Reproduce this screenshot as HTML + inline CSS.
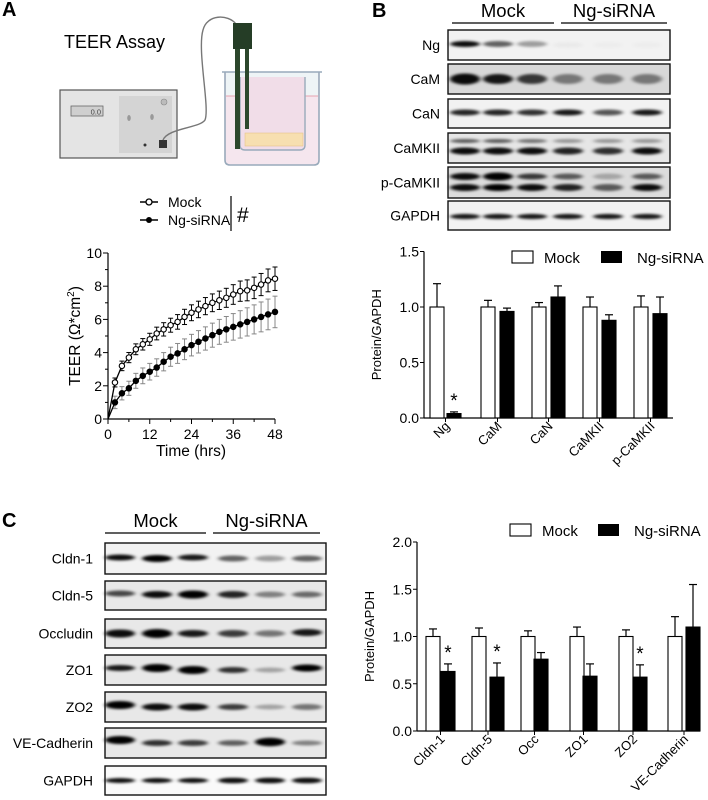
<!DOCTYPE html>
<html><head><meta charset="utf-8"><style>
html,body{margin:0;padding:0;background:#fff;}
svg{display:block;font-family:"Liberation Sans",Arial,sans-serif;}
</style></head><body>
<svg id="s" width="708" height="800" viewBox="0 0 708 800" xmlns="http://www.w3.org/2000/svg">
<defs>
<filter id="bl" x="-30%" y="-100%" width="160%" height="300%"><feGaussianBlur stdDeviation="2.2 1.3"/></filter>
</defs>
<text x="2" y="16" font-size="20" font-weight="bold">A</text>
<text x="372" y="17" font-size="20" font-weight="bold">B</text>
<text x="2" y="527" font-size="20" font-weight="bold">C</text>

<text x="64" y="48" font-size="18">TEER Assay</text>
<rect x="60" y="90" width="117" height="68" fill="#e4e4e4" stroke="#555" stroke-width="1.2"/>
<rect x="71" y="106" width="32" height="10" fill="#cfcfcf" stroke="#666" stroke-width="0.8"/>
<text x="101" y="114.5" font-size="7.5" text-anchor="end" fill="#444">0.0</text>
<rect x="119" y="96" width="53" height="57" fill="#d4d4d4"/>
<circle cx="164" cy="102" r="3" fill="#bbb" stroke="#888" stroke-width="0.6"/>
<ellipse cx="129" cy="118" rx="1.8" ry="3" fill="#999"/>
<ellipse cx="152" cy="117" rx="1.8" ry="3" fill="#999"/>
<circle cx="145" cy="145" r="1.5" fill="#333"/>
<rect x="159" y="140" width="8" height="8" fill="#333"/>
<path d="M163 140 C168 128 200 128 205 120 C210 108 197 50 203 30 C207 14 228 14 236 24" fill="none" stroke="#777" stroke-width="1.4"/>
<path d="M225 72 L225 160 Q225 165 230 165 L314 165 Q319 165 319 160 L319 72" fill="#f5e6ee" stroke="#9ab" stroke-width="1.6"/>
<rect x="226" y="72" width="92" height="24" fill="#eef4f6"/>
<line x1="226" y1="96" x2="318" y2="96" stroke="#e08a9a" stroke-width="0.8"/>
<path d="M222 72 L322 72" stroke="#9ab" stroke-width="1.6"/>
<path d="M240 77 L240 145 Q240 150 245 150 L300 150 Q305 150 305 145 L305 77" fill="#f1dde8" stroke="#9ab" stroke-width="1.4"/>
<rect x="245" y="133" width="58" height="13" fill="#f7dfb0" stroke="#e4c48a" stroke-width="0.6"/>
<rect x="233" y="23" width="19" height="26" fill="#253d26"/>
<rect x="235" y="49" width="5" height="100" fill="#2c472c"/>
<rect x="245" y="49" width="4" height="80" fill="#2c472c"/>

<line x1="140" y1="202" x2="158" y2="202" stroke="#000" stroke-width="1.5"/>
<circle cx="149" cy="202" r="3" fill="#fff" stroke="#000" stroke-width="1.3"/>
<text x="168" y="207" font-size="14">Mock</text>
<line x1="140" y1="220" x2="158" y2="220" stroke="#000" stroke-width="1.5"/>
<circle cx="149" cy="220" r="3" fill="#000"/>
<text x="168" y="225" font-size="14">Ng-siRNA</text>
<line x1="231" y1="196" x2="231" y2="231" stroke="#000" stroke-width="1.2"/>
<text x="237" y="222" font-size="21">#</text>

<g id="teer"></g>
<g id="blotB"></g>
<g id="blotC"></g>
<g id="barB"></g>
<g id="barC"></g>
</svg>
<script>
var NS="http://www.w3.org/2000/svg";
function el(p,t,a,txt){var e=document.createElementNS(NS,t);for(var k in a)e.setAttribute(k,a[k]);if(txt!==undefined)e.textContent=txt;p.appendChild(e);return e;}
(function(){
var g=document.getElementById('teer');
var X=function(t){return 108+t*(167/48);},Y=function(v){return 419-v*16.6;};
el(g,'line',{x1:108,y1:253,x2:108,y2:419,stroke:'#000','stroke-width':1.2});
el(g,'line',{x1:108,y1:419,x2:275,y2:419,stroke:'#000','stroke-width':1.2});
for(var v=0;v<=10;v++){var y=Y(v);el(g,'line',{x1:v%2?105:103,y1:y,x2:108,y2:y,stroke:'#000','stroke-width':1});
 if(v%2==0)el(g,'text',{x:102,y:y+5,'font-size':14,'text-anchor':'end'},''+v);}
for(var t=0;t<=48;t+=6){var x=X(t);el(g,'line',{x1:x,y1:419,x2:x,y2:t%12?422:424,stroke:'#000','stroke-width':1});
 if(t%12==0)el(g,'text',{x:x,y:439,'font-size':14,'text-anchor':'middle'},''+t);}
el(g,'text',{x:191,y:456,'font-size':15.5,'text-anchor':'middle'},'Time (hrs)');
var yl=el(g,'text',{x:0,y:0,'font-size':15.5,'text-anchor':'middle',transform:'translate(80,336) rotate(-90)'});
yl.innerHTML='TEER (Ω*cm<tspan dy="-6" font-size="10">2</tspan><tspan dy="6">)</tspan>';
var m=[0,2.2,3.2,3.7,4.2,4.5,4.8,5.15,5.4,5.65,5.85,6.15,6.4,6.6,6.8,7.0,7.15,7.3,7.5,7.7,7.75,7.9,8.1,8.35,8.45];
var s=[0,1.0,1.55,1.85,2.3,2.6,2.85,3.1,3.45,3.75,3.95,4.2,4.45,4.65,4.85,5.05,5.25,5.4,5.55,5.7,5.85,6.0,6.15,6.3,6.45];
function series(d,errc,fill,ef){var pts=d.map(function(v,i){return X(i*2)+','+Y(v);}).join(' ');
 for(var i=1;i<d.length;i++){var x=X(i*2),e=ef(i);el(g,'line',{x1:x,y1:Y(d[i]-e),x2:x,y2:Y(d[i]+e),stroke:errc,'stroke-width':1});
 el(g,'line',{x1:x-2.5,y1:Y(d[i]-e),x2:x+2.5,y2:Y(d[i]-e),stroke:errc,'stroke-width':1});
 el(g,'line',{x1:x-2.5,y1:Y(d[i]+e),x2:x+2.5,y2:Y(d[i]+e),stroke:errc,'stroke-width':1});}
 el(g,'polyline',{points:pts,fill:'none',stroke:'#000','stroke-width':1.3});
 for(var i=1;i<d.length;i++)el(g,'circle',{cx:X(i*2),cy:Y(d[i]),r:2.7,fill:fill,stroke:'#000','stroke-width':1.1});}
series(s,'#888','#000',function(i){return 0.35+i*0.025;});
series(m,'#000','#fff',function(i){return 0.25+i*0.019;});
})();
function blot(gid,x0,x1,rows,lanes,labx,hdr){
var g=document.getElementById(gid);
hdr.forEach(function(h){el(g,'text',{x:(h[0]+h[1])/2,y:h[3]-6,'font-size':18.5,'text-anchor':'middle'},h[2]);
 el(g,'line',{x1:h[0],y1:h[3],x2:h[1],y2:h[3],stroke:'#000','stroke-width':1.3});});
rows.forEach(function(r){var y0=r[1],y1=r[2],cy=(y0+y1)/2;
 el(g,'rect',{x:x0,y:y0,width:x1-x0,height:y1-y0,fill:r[4]||'#f2f2f2'});
 r[3].forEach(function(b,i){
  (Array.isArray(b[0])?b:[b]).forEach(function(bb){
  el(g,'ellipse',{cx:lanes[i],cy:cy+(bb[1]||0),rx:15,ry:bb[2]||3.2,fill:'#000','fill-opacity':bb[0],filter:'url(#bl)'});});});
 el(g,'rect',{x:x0,y:y0,width:x1-x0,height:y1-y0,fill:'none',stroke:'#111','stroke-width':1.4});
 el(g,'text',{x:labx,y:cy+5,'font-size':14,'text-anchor':'end'},r[0]);});
}
var LB=[465,498,532,568,608,647];
blot('blotB',448,670,[
['Ng',30,60,[[0.95,-1,3],[0.6,-1,3],[0.35,-1,3],[0.03,0,3],[0.02,0,3],[0.02,0,3]]],
['CaM',64,94,[[0.95,0,5.5],[0.9,0,5],[0.75,0,5],[0.45,0,5],[0.45,0,5],[0.45,0,5]],'#d8d8d8'],
['CaN',99,128,[[0.85,-1,3],[0.85,-1,3],[0.8,-1,3],[0.9,-1,3],[0.65,-1,3],[0.9,-1,3]]],
['CaMKII',133,163,[[[0.6,-7,2],[0.95,3,3.5]],[[0.6,-7,2],[0.95,3,3.5]],[[0.5,-7,2],[0.95,3,3.5]],[[0.35,-7,2],[0.85,3,3.5]],[[0.35,-7,2],[0.8,3,3.5]],[[0.35,-7,2],[0.95,3,3.5]]],'#e6e6e6'],
['p-CaMKII',167,198,[[[0.95,-6,3.5],[0.95,5,3.5]],[[1,-6,4],[1,5,3.5]],[[0.75,-6,3],[0.95,5,3.5]],[[0.6,-6,3],[0.85,5,3.5]],[[0.25,-6,3],[0.6,5,3.5]],[[0.6,-6,3],[0.95,5,3.5]]],'#dcdcdc'],
['GAPDH',201,230,[[0.9,1,2.6],[0.9,1,2.6],[0.9,1,2.6],[0.9,1,2.6],[0.9,1,2.6],[0.9,1,2.6]]]
],LB,440,[[452,554,'Mock',23],[561,667,'Ng-siRNA',23]]);
var LC=[120,157,193,233,270,307];
blot('blotC',105,326,[
['Cldn-1',543,574,[[0.95,-1,3],[1,0,3.5],[0.9,-1,3],[0.6,0,3],[0.35,0,3],[0.6,0,3]]],
['Cldn-5',581,610,[[0.7,-2,3],[0.95,-1,3.5],[1,-1,4],[0.85,-1,3.5],[0.45,-1,3],[0.55,-1,3]],'#e8e8e8'],
['Occludin',619,648,[[0.95,0,4],[1,0,4.5],[0.9,0,3.5],[0.75,0,3.5],[0.5,0,3.2],[0.9,-1,3.5]],'#e8e8e8'],
['ZO1',655,685,[[0.9,-2,3],[1,-2,4],[1,0,4],[0.8,0,3],[0.3,0,2.5],[1,-2,3.5]],'#e8e8e8'],
['ZO2',692,722,[[1,-2,4],[0.95,0,3.5],[0.95,0,3.5],[0.75,0,3],[0.3,0,2.5],[0.5,0,3]],'#e8e8e8'],
['VE-Cadherin',728,758,[[1,-3,4],[0.8,0,3],[0.75,0,3],[0.6,0,2.8],[1,-1,4.2],[0.45,0,2.5]],'#e8e8e8'],
['GAPDH',766,795,[[0.95,0,2.5],[0.95,0,2.5],[0.95,0,2.5],[0.95,0,2.8],[0.95,0,2.8],[0.95,0,2.8]],'#fafafa']
],LC,93,[[105,206,'Mock',533],[213,320,'Ng-siRNA',533]]);
function bars(gid,o){
var g=document.getElementById(gid);var Y=function(v){return o.y0-v*o.sc;};
el(g,'line',{x1:o.ax,y1:Y(o.max),x2:o.ax,y2:o.y0,stroke:'#000','stroke-width':1.2});
el(g,'line',{x1:o.ax,y1:o.y0,x2:o.xe,y2:o.y0,stroke:'#000','stroke-width':1.2});
for(var v=0;v<=o.max+1e-9;v+=0.5){var y=Y(v);el(g,'line',{x1:o.ax-4,y1:y,x2:o.ax,y2:y,stroke:'#000','stroke-width':1});
 el(g,'text',{x:o.ax-5,y:y+5,'font-size':14,'text-anchor':'end'},v.toFixed(1));}
el(g,'text',{x:0,y:0,'font-size':13,'text-anchor':'middle',transform:'translate('+o.ylx+','+Y(o.max/2)+') rotate(-90)'},'Protein/GAPDH');
o.d.forEach(function(d){
 [[d[1],d[2],d[3],'#fff'],[d[4],d[5],d[6],'#000']].forEach(function(b){
  var x=b[0],w=o.bw,top=Y(b[1]),et=Y(b[2]);
  el(g,'line',{x1:x+w/2,y1:et,x2:x+w/2,y2:top,stroke:'#000','stroke-width':1.2});
  el(g,'line',{x1:x+w/2-4,y1:et,x2:x+w/2+4,y2:et,stroke:'#000','stroke-width':1.2});
  el(g,'rect',{x:x,y:top,width:w,height:o.y0-top,fill:b[3],stroke:'#000','stroke-width':1.1});});
 var c=(d[1]+d[4]+o.bw)/2;
 el(g,'line',{x1:c,y1:o.y0,x2:c,y2:o.y0+4,stroke:'#000','stroke-width':1});
 el(g,'text',{x:0,y:0,'font-size':13,'text-anchor':'end',transform:'translate('+(c+5)+','+(o.y0+9)+') rotate(-'+o.rot+')'},d[0]);
 if(d[7])el(g,'text',{x:d[4]+o.bw/2,y:Y(d[6])-5,'font-size':19,'text-anchor':'middle'},'*');
});
var L=o.leg;
el(g,'rect',{x:L[0],y:L[1],width:21,height:12,fill:'#fff',stroke:'#000','stroke-width':1.1});
el(g,'text',{x:L[0]+32,y:L[1]+12,'font-size':15},'Mock');
el(g,'rect',{x:L[2],y:L[1],width:21,height:12,fill:'#000'});
el(g,'text',{x:L[2]+36,y:L[1]+12,'font-size':15},'Ng-siRNA');
}
bars('barB',{ax:424,xe:673,y0:418,sc:111,max:1.5,bw:14,ylx:381,rot:45,leg:[512,251,601],d:[
['Ng',430,1,1.21,447,0.04,0.055,1],['CaM',481,1,1.06,500,0.96,0.99],['CaN',532,1,1.04,551,1.09,1.19],
['CaMKII',583,1,1.09,602,0.88,0.93],['p-CaMKII',634,1,1.1,653,0.94,1.09]]});
bars('barC',{ax:417,xe:700,y0:731,sc:94.5,max:2.0,bw:14,ylx:374,rot:45,leg:[510,524,598],d:[
['Cldn-1',426,1,1.08,441,0.63,0.71,1],['Cldn-5',472,1,1.09,490,0.57,0.72,1],['Occ',521,1,1.06,534,0.76,0.83],
['ZO1',570,1,1.1,583,0.58,0.71],['ZO2',619,1,1.07,633,0.57,0.7,1],['VE-Cadherin',668,1,1.21,686,1.1,1.55]]});
</script>
</body></html>
